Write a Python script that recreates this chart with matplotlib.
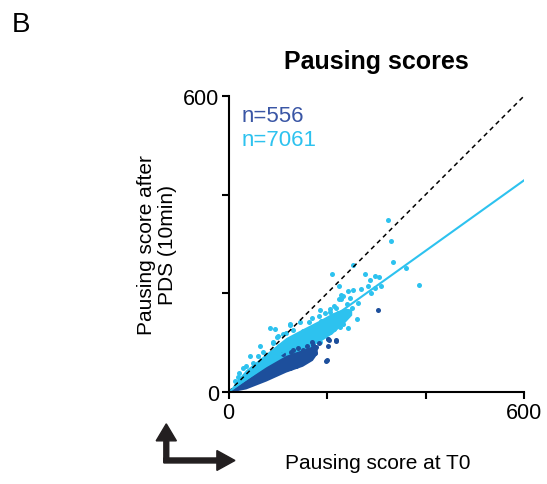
import numpy as np
import matplotlib
matplotlib.use("Agg")
import matplotlib.pyplot as plt

plt.rcParams['font.family'] = ['Liberation Sans', 'DejaVu Sans']

LIGHT = '#2DC2EF'
DARK = '#1D4F9C'

# dense cores of the two clouds (x, lower edge, upper edge)
light_core_x = [0, 15, 35, 76, 116, 150, 185, 210, 235, 250]
light_core_lo = [0, 8, 20, 45, 66, 84, 102, 118, 140, 156]
light_core_hi = [0, 22, 45, 78, 110, 128, 146, 160, 170, 168]

dark_core_x = [0, 15, 35, 76, 116, 150, 170, 180]
dark_core_lo = [0, 2, 6, 22, 40, 52, 64, 78]
dark_core_hi = [0, 11, 24, 51, 74, 86, 93, 90]

# scattered points around the cores
light_x = [324, 329, 333, 361, 387, 253, 209, 225, 277, 298, 306, 288, 283, 297,
           310, 290, 268, 253, 243, 233, 225, 246,
           185, 196, 206, 223, 229, 240, 212, 229, 219, 206, 209, 192, 179, 185,
           202, 165, 158, 145, 125, 94, 98, 91,
           260, 242, 237, 218, 220, 228, 215, 205,
           63, 43, 22, 29, 49, 70, 83, 103, 90, 100, 117, 124, 137, 144, 151, 157,
           164, 174, 178, 184, 191, 110, 130, 60, 36, 12, 18,
           195, 215, 232, 170, 188, 226, 250, 262]
light_y = [348, 306, 263, 252, 217, 257, 238, 215, 238, 235, 232, 226, 215, 211,
           215, 201, 208, 206, 204, 195, 189, 191,
           165, 159, 169, 159, 196, 179, 152, 149, 135, 122, 142, 132, 115, 101,
           108, 91, 111, 101, 138, 128, 111, 101,
           147, 130, 151, 171, 147, 188, 174, 161,
           93, 73, 39, 49, 59, 80, 130, 93, 100, 114, 120, 135, 114, 141, 124, 120,
           141, 114, 130, 154, 134, 118, 125, 72, 52, 21, 30,
           118, 128, 138, 150, 144, 132, 170, 180]

dark_x = [303, 198, 218, 201, 201, 184, 178, 157, 151, 144, 137, 124, 117, 164,
          171, 151, 169, 171, 152, 219, 204, 199, 148, 155, 131, 127, 160, 175,
          140, 110]
dark_y = [166, 63, 103, 107, 93, 100, 90, 73, 66, 59, 53, 49, 46, 80,
          86, 83, 101, 95, 84, 105, 105, 64, 71, 68, 84, 81, 92, 78,
          88, 76]

n_dark = 556
n_light = 7061
fit_slope = 0.715

fig = plt.figure(figsize=(5.47, 4.85), dpi=100)
ax = fig.add_axes([0.418, 0.19, 0.54, 0.61])

ax.fill_between(light_core_x, light_core_lo, light_core_hi, color=LIGHT, lw=0)
ax.scatter(light_x, light_y, s=13, color=LIGHT, lw=0)
ax.fill_between(dark_core_x, dark_core_lo, dark_core_hi, color=DARK, lw=0)
ax.scatter(dark_x, dark_y, s=13, color=DARK, lw=0)

ax.plot([0, 600], [0, 600], color='black', ls=(0, (3, 2.5)), lw=1.1)
ax.plot([0, 600], [0, 600 * fit_slope], color=LIGHT, lw=1.5)

ax.set_xlim(0, 600)
ax.set_ylim(0, 600)
ax.set_xticks([0, 200, 400, 600])
ax.set_xticklabels(['0', '', '', '600'])
ax.set_yticks([0, 200, 400, 600])
ax.set_yticklabels(['0', '', '', '600'])
for s in ['top', 'right']:
    ax.spines[s].set_visible(False)
for s in ['left', 'bottom']:
    ax.spines[s].set_linewidth(1.5)
ax.tick_params(width=1.5, length=5, labelsize=15.5, pad=2)

ax.set_title('Pausing scores', fontsize=18, fontweight='bold', pad=20)
ax.set_ylabel('Pausing score after\nPDS (10min)', fontsize=15, labelpad=4,
              linespacing=1.15)

ax.text(0.045, 0.97, 'n=%d' % n_dark, transform=ax.transAxes, color='#3A56A5',
        fontsize=16, va='top')
ax.text(0.045, 0.89, 'n=%d' % n_light, transform=ax.transAxes, color=LIGHT,
        fontsize=16, va='top')

fig.text(0.69, 0.045, 'Pausing score at T0', fontsize=15, ha='center', va='center')
fig.text(0.022, 0.975, 'B', fontsize=20, va='top')

# corner arrows
fig.patches.append(matplotlib.patches.FancyArrow(
    0.304, 0.045, 0.0, 0.079, width=0.009, head_width=0.037, head_length=0.035,
    color='#231F20', transform=fig.transFigure, length_includes_head=True))
fig.patches.append(matplotlib.patches.FancyArrow(
    0.2995, 0.0485, 0.13, 0.0, width=0.0103, head_width=0.041, head_length=0.033,
    color='#231F20', transform=fig.transFigure, length_includes_head=True))

fig.savefig('out.png', dpi=100)
